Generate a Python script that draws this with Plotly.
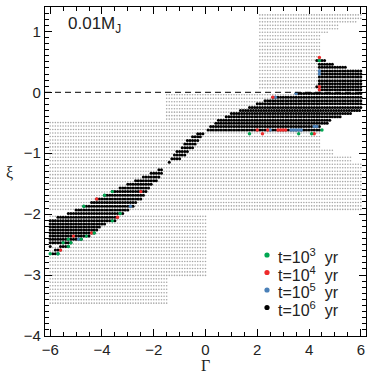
import numpy as np
import plotly.graph_objects as go

# ---------------- data ----------------
# grey parameter grid: blocks of rows (xi_top, xi_bottom, gamma_min, gamma_max)
GREY_BLOCKS = [
    (1.30, 1.20, 2.1, 6.0),
    (1.19, 1.13, 2.1, 5.8),
    (1.12, 1.03, 2.1, 5.1),
    (1.02, 0.97, 2.1, 4.7),
    (0.96, 0.02, 2.1, 4.4),
    (-0.03, -0.47, -1.5, 4.4),
    (-0.48, -0.93, -6.0, 4.4),
    (-0.94, -1.02, -6.0, 4.9),
    (-1.03, -1.17, -6.0, 5.6),
    (-1.18, -1.97, -6.0, 6.0),
    (-1.98, -3.03, -6.0, 0.0),
    (-3.04, -3.48, -6.0, -1.5),
]
GRID_XI_TOP = 1.27
GRID_XI_STEP = 0.057
GRID_G_STEP = 0.1

# black band (t = 1e6 yr): rows (xi, gamma_min, gamma_max)
BAND_ROWS = [
    (0.52, 4.3, 4.6), (0.46, 4.4, 4.9), (0.41, 4.4, 5.4), (0.35, 4.4, 6.0),
    (0.30, 4.4, 6.0), (0.25, 4.4, 6.0), (0.19, 4.4, 6.0), (0.14, 4.4, 6.0),
    (0.09, 4.3, 6.0), (0.04, 4.4, 6.0), (-0.02, 3.5, 6.0), (-0.08, 2.6, 6.0),
    (-0.14, 2.3, 6.0), (-0.19, 2.0, 6.0), (-0.25, 1.7, 6.0), (-0.30, 1.35, 6.0),
    (-0.35, 1.0, 5.6), (-0.40, 0.8, 5.2), (-0.46, 0.5, 4.8), (-0.51, 0.4, 4.7),
    (-0.56, 0.2, 4.4), (-0.62, 0.1, 4.4),
    (-0.68, -0.3, -0.1), (-0.73, -0.5, -0.2), (-0.79, -0.7, -0.3), (-0.85, -0.8, -0.4),
    (-0.91, -0.9, -0.5), (-0.97, -1.1, -0.7), (-1.03, -1.2, -0.8), (-1.09, -1.3, -1.0),
    (-1.15, -1.4, -1.4), (-1.27, -1.8, -1.7), (-1.33, -2.1, -1.7), (-1.39, -2.4, -1.8),
    (-1.45, -2.7, -1.9), (-1.51, -3.0, -2.1), (-1.57, -3.3, -2.2), (-1.63, -3.6, -2.3),
    (-1.69, -3.9, -2.4), (-1.75, -4.2, -2.5), (-1.81, -4.4, -2.7), (-1.87, -4.7, -2.8),
    (-1.93, -5.0, -3.0), (-1.99, -5.3, -3.2), (-2.05, -5.7, -3.4), (-2.11, -6.0, -3.5),
    (-2.16, -6.0, -3.9), (-2.21, -6.0, -4.1), (-2.26, -6.0, -4.2), (-2.31, -6.0, -4.3),
    (-2.36, -6.0, -4.5), (-2.41, -6.0, -4.8), (-2.47, -6.0, -5.2), (-2.53, -5.6, -5.3),
    (-2.53, -6.0, -6.0), (-2.59, -5.8, -5.6), (-2.65, -5.9, -5.7),
]

# coloured points
G3_GAMMA = [4.4, 1.7, 3.6, 4.1, 4.5, -3.6, -3.9, -4.7, -3.3, -3.6, -4.3, -4.6, -5.3, -4.8, -5.5, -5.2, -5.3, -6.0, -5.7]
G3_XI = [0.52, -0.68, -0.68, -0.68, -0.62, -1.63, -1.69, -1.87, -1.99, -2.11, -2.31, -2.36, -2.41, -2.41, -2.47, -2.47, -2.53, -2.65, -2.65]

G4_GAMMA = [4.4, 4.4, 4.4, 2.6, 2.0, 2.4, 2.8, 2.9, 3.0, 3.1, 2.2, 4.2, -4.2, -3.4, -4.4, -5.1, -5.6, -2.5]
G4_XI = [0.57, 0.09, 0.04, -0.08, -0.62, -0.62, -0.62, -0.62, -0.62, -0.62, -0.68, -0.68, -1.75, -2.05, -2.31, -2.36, -2.59, -1.63]

G5_GAMMA = [4.4, 4.4, 3.5, 2.7, 4.2, 4.3, 2.5, 3.3, 3.4, 3.5, 3.6, 3.7, -2.9, -4.9, -5.7]
G5_XI = [0.35, 0.30, -0.02, -0.08, -0.56, -0.56, -0.62, -0.62, -0.62, -0.62, -0.62, -0.62, -1.87, -2.41, -2.65]

X_TICKS = [-6, -4, -2, 0, 2, 4, 6]
Y_TICKS = [-4, -3, -2, -1, 0, 1]
LEGEND_LABELS = ["t=10<sup>3</sup>  yr", "t=10<sup>4</sup>  yr", "t=10<sup>5</sup>  yr", "t=10<sup>6</sup>  yr"]
LEGEND_COLORS = ["#00a651", "#ee2a2a", "#4a80b8", "#000000"]

# ---------------- build points ----------------
gx, gy = [], []
xi_rows = np.round(np.arange(GRID_XI_TOP, -3.5, -GRID_XI_STEP), 3)
for xi in xi_rows:
    for top, bot, g0, g1 in GREY_BLOCKS:
        if bot - 1e-6 <= xi <= top + 1e-6:
            gs = np.round(np.arange(g0, g1 + 1e-6, GRID_G_STEP), 2)
            gx.extend(gs)
            gy.extend([xi] * len(gs))

bx, by = [], []
for xi, g0, g1 in BAND_ROWS:
    gs = np.round(np.arange(g0, g1 + 1e-6, GRID_G_STEP), 2)
    bx.extend(gs)
    by.extend([xi] * len(gs))

fig = go.Figure()
fig.add_trace(go.Scatter(x=gx, y=gy, mode="markers",
                         marker=dict(size=1.6, color="#a8a8a8", line=dict(width=0)),
                         showlegend=False, hoverinfo="skip"))
fig.add_trace(go.Scatter(x=bx, y=by, mode="markers",
                         marker=dict(size=3.0, color="black", line=dict(width=0)),
                         showlegend=False))
for gxs, gys, col in [(G5_GAMMA, G5_XI, LEGEND_COLORS[2]),
                      (G4_GAMMA, G4_XI, LEGEND_COLORS[1]),
                      (G3_GAMMA, G3_XI, LEGEND_COLORS[0])]:
    fig.add_trace(go.Scatter(x=gxs, y=gys, mode="markers",
                             marker=dict(size=3.4, color=col, line=dict(width=0)),
                             showlegend=False))

L, R, T, B = 45, 8, 7, 38
W = H = 374
pw, ph = W - L - R, H - T - B

def px2x(p):
    return (p - L) / pw

def py2y(p):
    return 1 - (p - T) / ph

shapes = [dict(type="line", xref="paper", yref="y", x0=0, x1=1, y0=0, y1=0,
               line=dict(color="black", width=1, dash="6px,4px"))]
annotations = [
    dict(text="0.01M<sub>J</sub>", xref="paper", yref="paper",
         x=px2x(66), y=py2y(25), xanchor="left", yanchor="middle",
         showarrow=False, font=dict(size=17, color="#222", family="Liberation Sans")),
    dict(text="Γ", xref="paper", yref="paper", x=px2x(205), y=py2y(365),
         xanchor="center", yanchor="middle", showarrow=False,
         font=dict(size=16, color="#222", family="Liberation Serif")),
    dict(text="ξ", xref="paper", yref="paper", x=px2x(9), y=py2y(172),
         xanchor="center", yanchor="middle", showarrow=False,
         font=dict(size=16, color="#222", family="Liberation Serif")),
]
leg_y = [255, 272.5, 290, 307.5]
for lab, col, yy in zip(LEGEND_LABELS, LEGEND_COLORS, leg_y):
    r = 2.6
    shapes.append(dict(type="circle", xref="paper", yref="paper",
                       x0=px2x(267 - r), x1=px2x(267 + r),
                       y0=py2y(yy + r), y1=py2y(yy - r),
                       fillcolor=col, line=dict(width=0)))
    annotations.append(dict(text=lab, xref="paper", yref="paper",
                            x=px2x(276), y=py2y(yy + 1), xanchor="left", yanchor="middle",
                            showarrow=False,
                            font=dict(size=16, color="#222", family="Liberation Sans")))

axis_common = dict(showline=True, linecolor="black", linewidth=1.3, mirror="ticks",
                   ticks="inside", tickcolor="black", ticklen=7, tickwidth=1,
                   showgrid=False, zeroline=False, automargin=False,
                   tickfont=dict(size=15, color="#222", family="Liberation Sans"))
fig.update_layout(
    template="none",
    width=W, height=H, margin=dict(l=L, r=R, t=T, b=B, autoexpand=False),
    paper_bgcolor="white", plot_bgcolor="white", showlegend=False,
    shapes=shapes, annotations=annotations,
    xaxis=dict(range=[-6.2, 6.2], tickvals=X_TICKS,
               minor=dict(dtick=0.5, tick0=0, ticks="inside", ticklen=3.5, tickcolor="black"),
               **axis_common),
    yaxis=dict(range=[-4.0, 1.4], tickvals=Y_TICKS,
               minor=dict(dtick=0.1, tick0=0, ticks="inside", ticklen=3.5, tickcolor="black"),
               **axis_common),
)
fig.write_html("out.html", config={"displayModeBar": False},
               post_script="document.body.style.margin='0px';document.body.style.overflow='hidden';")
